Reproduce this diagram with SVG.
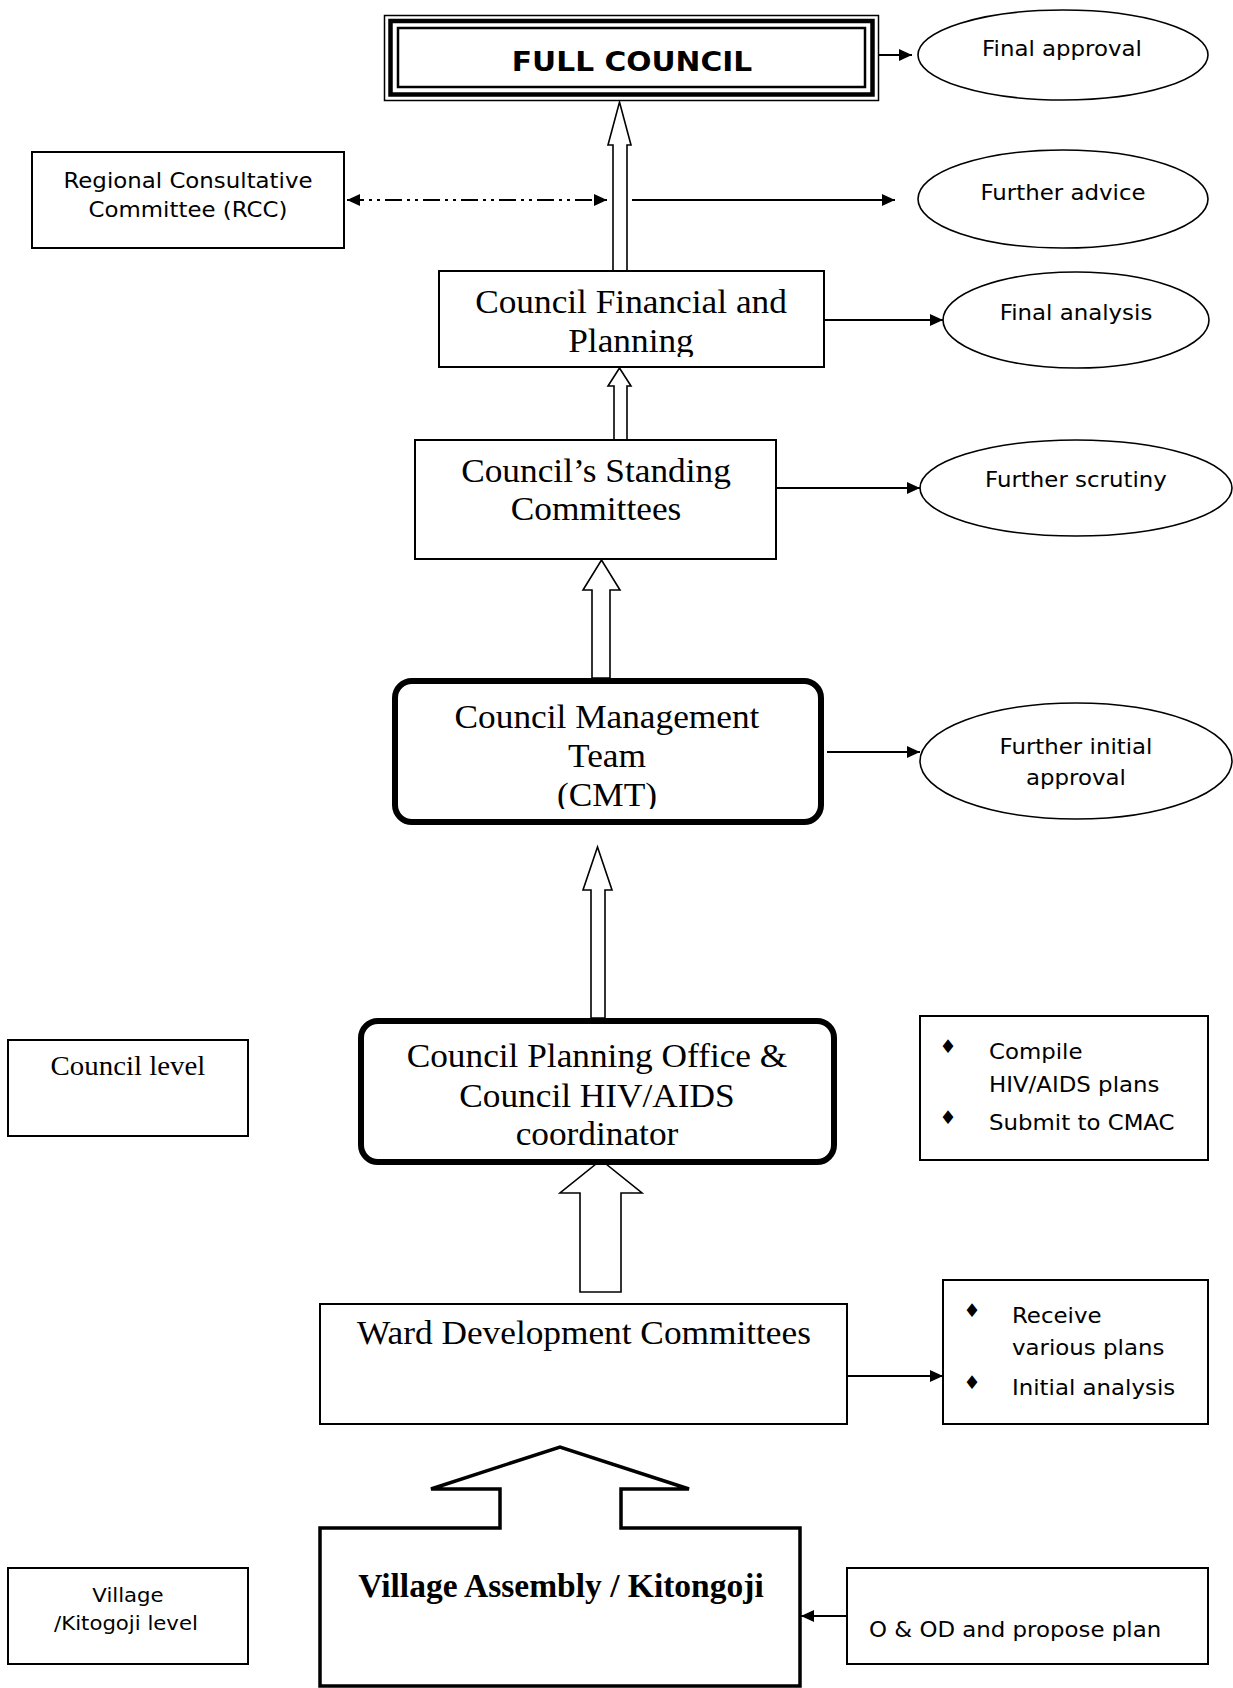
<svg xmlns="http://www.w3.org/2000/svg" width="1233" height="1688" viewBox="0 0 1233 1688">
<defs>
<style>
.box{fill:#fff;stroke:#000;stroke-width:2}
.rbox{fill:#fff;stroke:#000;stroke-width:6}
.ell{fill:#fff;stroke:#000;stroke-width:1.6}
.hollow{fill:#fff;stroke:#000;stroke-width:1.6}
.line{fill:none;stroke:#000;stroke-width:2.2;marker-end:url(#ah)}
.dash{fill:none;stroke:#000;stroke-width:2;stroke-dasharray:17 5 3 5 3 5;marker-start:url(#ah);marker-end:url(#ah)}
.sans{font-family:"DejaVu Sans",Verdana,sans-serif;font-size:21px;fill:#000;text-anchor:middle;transform-box:fill-box;transform-origin:center;transform:scaleX(1.09)}
.sl{text-anchor:start;transform-origin:left center}
.serif{font-family:"Liberation Serif","Times New Roman",serif;font-size:33px;fill:#000;text-anchor:middle;transform-box:fill-box;transform-origin:center;transform:scaleX(1.07)}
.bul{font-family:"DejaVu Sans",sans-serif;font-size:19px;text-anchor:middle;fill:#000}
</style>
<marker id="ah" markerUnits="userSpaceOnUse" markerWidth="13" markerHeight="13" viewBox="0 0 13 13" refX="13" refY="6.5" orient="auto-start-reverse"><path d="M0,0.5 L13,6.5 L0,12.5 z" fill="#000"/></marker>
<clipPath id="c1"><rect x="439" y="271" width="385" height="86"/></clipPath>
<clipPath id="c2"><rect x="392" y="678" width="432" height="131"/></clipPath>
</defs>

<g id="connectors">
<polygon class="hollow" points="613,271 613,145 608,145 619.5,102 631,145 627,145 627,271"/>
<polygon class="hollow" points="614,440 614,386 608,386 619.5,368 631,386 627,386 627,440"/>
<polygon class="hollow" points="592,678 592,590 583,590 601.5,560 620,590 610,590 610,678"/>
<polygon class="hollow" points="591,1018 591,890 583,890 597.5,847 612,890 605,890 605,1018"/>
<polygon class="hollow" points="580,1292 580,1193 560,1193 601,1160 642,1193 621,1193 621,1292"/>
<path class="line" d="M879,55 L912,55"/>
<path class="dash" d="M347,200 L607,200"/>
<path class="line" d="M632,200 L895,200"/>
<path class="line" d="M824,320 L943,320"/>
<path class="line" d="M776,488 L920,488"/>
<path class="line" d="M827,752 L920,752"/>
<path class="line" d="M847,1376 L943,1376"/>
<path class="line" d="M847,1616 L801,1616"/>
</g>

<g id="full-council">
<rect x="384.5" y="15.5" width="494" height="85" fill="#fff" stroke="#000" stroke-width="1.5"/>
<rect x="390.5" y="21" width="482" height="73.5" fill="none" stroke="#000" stroke-width="4.5"/>
<rect x="398" y="28" width="467" height="59" fill="none" stroke="#000" stroke-width="2.5"/>
<text class="sans" x="632" y="71" style="font-weight:bold;font-size:27px;transform:scaleX(1.1)">FULL COUNCIL</text>
</g>

<g id="final-approval">
<ellipse class="ell" cx="1063" cy="55" rx="145" ry="45"/>
<text class="sans" x="1062" y="56">Final approval</text>
</g>

<g id="rcc">
<rect class="box" x="32" y="152" width="312" height="96"/>
<text class="sans" x="188" y="188">Regional Consultative</text>
<text class="sans" x="188" y="217">Committee (RCC)</text>
</g>

<g id="further-advice">
<ellipse class="ell" cx="1063" cy="199" rx="145" ry="49"/>
<text class="sans" x="1063" y="200">Further advice</text>
</g>

<g id="cfp">
<rect class="box" x="439" y="271" width="385" height="96"/>
<g clip-path="url(#c1)">
<text class="serif" x="631" y="313">Council Financial and</text>
<text class="serif" x="631" y="352">Planning</text>
</g>
</g>

<g id="final-analysis">
<ellipse class="ell" cx="1076" cy="320" rx="133" ry="48"/>
<text class="sans" x="1076" y="320">Final analysis</text>
</g>

<g id="standing">
<rect class="box" x="415" y="440" width="361" height="119"/>
<text class="serif" x="596" y="482">Council’s Standing</text>
<text class="serif" x="596" y="520">Committees</text>
</g>

<g id="further-scrutiny">
<ellipse class="ell" cx="1076" cy="488" rx="156" ry="48"/>
<text class="sans" x="1076" y="487">Further scrutiny</text>
</g>

<g id="cmt">
<rect class="rbox" x="395" y="681" width="426" height="141" rx="17"/>
<g clip-path="url(#c2)">
<text class="serif" x="607" y="728">Council Management</text>
<text class="serif" x="607" y="767">Team</text>
<text class="serif" x="607" y="806">(CMT)</text>
</g>
</g>

<g id="further-initial-approval">
<ellipse class="ell" cx="1076" cy="761" rx="156" ry="58"/>
<text class="sans" x="1076" y="754">Further initial</text>
<text class="sans" x="1076" y="785">approval</text>
</g>

<g id="council-level">
<rect class="box" x="8" y="1040" width="240" height="96"/>
<text class="serif" x="128" y="1075" style="font-size:27px">Council level</text>
</g>

<g id="cpo">
<rect class="rbox" x="361" y="1021" width="473" height="141" rx="17"/>
<text class="serif" x="597" y="1067">Council Planning Office &amp;</text>
<text class="serif" x="597" y="1107">Council HIV/AIDS</text>
<text class="serif" x="597" y="1145">coordinator</text>
</g>

<g id="compile">
<rect class="box" x="920" y="1016" width="288" height="144"/>
<text class="bul" x="948" y="1053">♦</text>
<text class="sans sl" x="989" y="1059">Compile</text>
<text class="sans sl" x="989" y="1092">HIV/AIDS plans</text>
<text class="bul" x="948" y="1124">♦</text>
<text class="sans sl" x="989" y="1130">Submit to CMAC</text>
</g>

<g id="ward">
<rect class="box" x="320" y="1304" width="527" height="120"/>
<text class="serif" x="584" y="1344">Ward Development Committees</text>
</g>

<g id="receive">
<rect class="box" x="943" y="1280" width="265" height="144"/>
<text class="bul" x="972" y="1317">♦</text>
<text class="sans sl" x="1012" y="1323">Receive</text>
<text class="sans sl" x="1012" y="1355">various plans</text>
<text class="bul" x="972" y="1389">♦</text>
<text class="sans sl" x="1012" y="1395">Initial analysis</text>
</g>

<g id="village-level">
<rect class="box" x="8" y="1568" width="240" height="96"/>
<text class="sans" x="128" y="1602" style="font-size:19.5px">Village</text>
<text class="sans" x="126" y="1630" style="font-size:19.5px">/Kitogoji level</text>
</g>

<g id="village-assembly">
<path d="M320,1528 L500,1528 L500,1489 L431,1489 L560,1447 L689,1489 L621,1489 L621,1528 L800,1528 L800,1686 L320,1686 Z" fill="#fff" stroke="#000" stroke-width="3.5"/>
<text x="561" y="1597" style="font-family:'Liberation Serif','Times New Roman',serif;font-weight:bold;font-size:33.5px;text-anchor:middle">Village Assembly / Kitongoji</text>
</g>

<g id="ood">
<rect class="box" x="847" y="1568" width="361" height="96"/>
<text class="sans sl" x="869" y="1637">O &amp; OD and propose plan</text>
</g>
</svg>
